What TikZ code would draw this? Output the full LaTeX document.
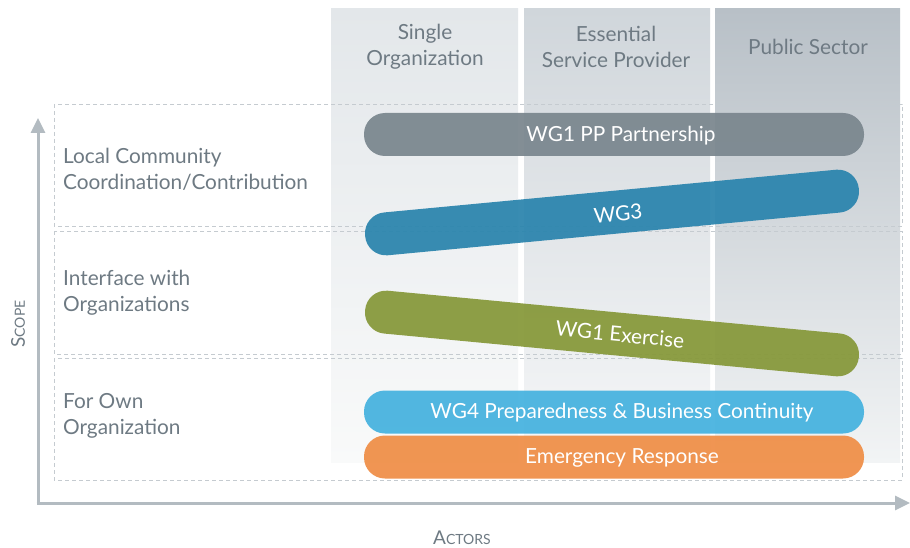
\documentclass[tikz,border=0pt]{standalone}
\usepackage{fontspec}
\setmainfont{Lato}
\usetikzlibrary{arrows.meta}

\definecolor{labelgray}{HTML}{6E7A83}
\definecolor{axisgray}{HTML}{B3BBC1}
\definecolor{dashgray}{HTML}{C5CBD0}
\definecolor{colAtop}{HTML}{E3E7EA}
\definecolor{colAbot}{HTML}{F9FAFA}
\definecolor{colBtop}{HTML}{D0D6DB}
\definecolor{colBbot}{HTML}{F6F7F8}
\definecolor{colCtop}{HTML}{B8C0C7}
\definecolor{colCbot}{HTML}{F2F4F5}
\definecolor{ppgray}{HTML}{7A868E}
\definecolor{wgblue}{HTML}{2A84AD}
\definecolor{wgolive}{HTML}{869839}
\definecolor{wgsky}{HTML}{45B2DF}
\definecolor{emorange}{HTML}{EF8E46}

\tikzset{
  rowlabel/.style={anchor=west, align=left, text=labelgray, inner sep=3pt,
    font=\fontsize{20.8}{26}\selectfont},
  colhead/.style={align=center, text=labelgray, inner sep=0pt,
    font=\fontsize{20.8}{26}\selectfont},
  rowbox/.style={draw=dashgray, line width=0.8pt, dash pattern=on 4pt off 3pt},
  axisline/.style={draw=axisgray, line width=3pt,
    -{Triangle[width=14pt,length=15pt]}},
  bar/.style={minimum height=43pt, rounded corners=21pt, inner sep=0pt,
    fill opacity=0.93, draw=none},
  bartext/.style={text=white, inner sep=0pt, font=\fontsize{20.8}{24}\selectfont},
}

\begin{document}
\begin{tikzpicture}[x=1pt, y=-1pt]
\useasboundingbox (0,0) rectangle (910,548);
\fill[white] (0,0) rectangle (910,548);

% actor columns
\shade[top color=colAtop, bottom color=colAbot] (331,9) rectangle (518,462);
\shade[top color=colBtop, bottom color=colBbot] (524,9) rectangle (710,462);
\shade[top color=colCtop, bottom color=colCbot] (715,9) rectangle (900,462);

\node[colhead] (single) at (425,46.5) {Single\\Organization};
\node[colhead] (esp) at (616,46.5) {Essential\\Service Provider};
\node[colhead] (public) at (808,46.5) {Public Sector};

% scope rows
\draw[rowbox] (54,104) rectangle (902,226);
\draw[rowbox] (54,231) rectangle (902,354);
\draw[rowbox] (54,358) rectangle (902,480);

\node[rowlabel] (local) at (60,169.5) {Local Community\\Coordination/Contribution};
\node[rowlabel] (iface) at (60,292.5) {Interface with\\Organizations};
\node[rowlabel] (own) at (60,415.5) {For Own\\Organization};

% axes
\coordinate (origin) at (38,503);
\coordinate (ytip) at (38,118);
\coordinate (xtip) at (910,503);
\draw[axisline] ([yshift=-1.5pt]origin) -- (ytip);
\draw[axisline] ([xshift=-1.5pt]origin) -- (xtip);

\node[text=labelgray, rotate=90, inner sep=0pt] (scope) at (18,324)
  {\fontsize{19}{19}\selectfont S\fontsize{14}{14}\selectfont COPE};
\node[text=labelgray, inner sep=0pt] (actors) at (462,538)
  {\fontsize{19}{19}\selectfont A\fontsize{14}{14}\selectfont CTORS};

% working-group bars
\node[bar, fill=ppgray, minimum width=500pt] (pp) at (614,134.5) {};
\node[bar, fill=wgblue, minimum width=496pt, rotate=5.4] (wg3) at (612,212.5) {};
\node[bar, fill=wgolive, minimum width=496pt, rotate=-5.4] (ex) at (612,333.5) {};
\node[bar, fill=wgsky, minimum width=500pt] (wg4) at (614,412) {};
\node[bar, fill=emorange, minimum width=500pt] (er) at (614,457) {};

\node[bartext] (pptext) at (621,135.5) {WG1 PP Partnership};
\node[bartext, rotate=5.4] (wg3text) at (618,213.5) {WG3};
\node[bartext, rotate=-5.4] (extext) at (620,334.5) {WG1 Exercise};
\node[bartext] (wg4text) at (622,412.5) {WG4 Preparedness \& Business Continuity};
\node[bartext] (ertext) at (622,457.5) {Emergency Response};
\end{tikzpicture}
\end{document}
